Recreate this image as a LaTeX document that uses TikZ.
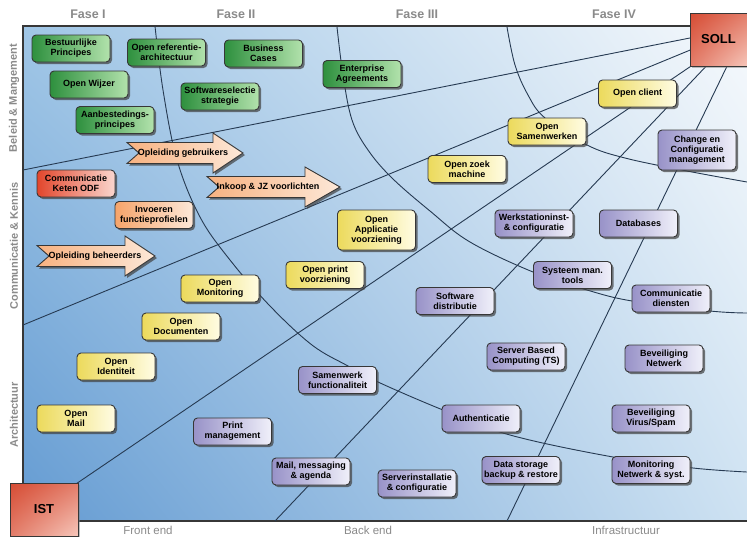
\documentclass[tikz,border=0pt]{standalone}
\usepackage{fontspec}
\setmainfont{Liberation Sans}
\usetikzlibrary{shadows,shadings}

\definecolor{bgUL}{RGB}{160,198,230}
\definecolor{bgUR}{RGB}{246,249,252}
\definecolor{bgLL}{RGB}{100,155,210}
\definecolor{bgLR}{RGB}{206,226,242}
\definecolor{gridcol}{RGB}{38,58,82}
\definecolor{boxline}{RGB}{55,55,55}
\definecolor{labelgray}{RGB}{138,138,138}
\definecolor{grnA}{RGB}{46,144,62}
\definecolor{grnB}{RGB}{178,226,172}
\definecolor{ylwA}{RGB}{236,218,92}
\definecolor{ylwB}{RGB}{255,252,226}
\definecolor{prpA}{RGB}{152,146,200}
\definecolor{prpB}{RGB}{240,240,250}
\definecolor{orgA}{RGB}{246,164,106}
\definecolor{orgB}{RGB}{253,232,216}
\definecolor{redA}{RGB}{226,70,44}
\definecolor{redB}{RGB}{251,214,206}
\definecolor{cornA}{RGB}{214,76,52}
\definecolor{cornB}{RGB}{246,198,186}

\tikzset{
  box/.style={draw=boxline, line width=0.9pt, rounded corners=4pt,
    minimum width=78pt, minimum height=27pt, inner sep=1pt, align=center,
    text=black, font=\bfseries\fontsize{9}{10}\selectfont,
    drop shadow={shadow xshift=2pt, shadow yshift=-2pt, opacity=0.7, fill=black!75}},
  greenbox/.style={box, left color=grnA, right color=grnB},
  yellowbox/.style={box, left color=ylwA, right color=ylwB},
  purplebox/.style={box, left color=prpA, right color=prpB},
  orangebox/.style={box, left color=orgA, right color=orgB},
  redbox/.style={box, left color=redA, right color=redB},
  tallbox/.style={minimum height=40pt},
  cornerbox/.style={draw=boxline, line width=0.9pt, upper left=cornA,
    lower right=cornB, upper right=cornA!60!cornB, lower left=cornA!60!cornB,
    font=\bfseries\fontsize{13}{15}\selectfont, text=black, inner sep=0pt,
    drop shadow={shadow xshift=1.6pt, shadow yshift=-1.6pt, opacity=0.5}},
  arrowshape/.style={draw=boxline, line width=0.9pt, left color=orgA!85!white,
    right color=orgB, drop shadow={shadow xshift=2pt, shadow yshift=-2pt, opacity=0.7, fill=black!75}},
  arrowtext/.style={font=\bfseries\fontsize{9}{10}\selectfont, text=black, inner sep=0pt},
  gridline/.style={draw=gridcol, line width=0.9pt},
  faselabel/.style={font=\bfseries\fontsize{12.5}{14}\selectfont, text=labelgray},
  zonelabel/.style={font=\fontsize{11.5}{13}\selectfont, text=labelgray},
  rowlabel/.style={font=\bfseries\fontsize{11}{13}\selectfont, text=labelgray, rotate=90},
}

% name, x tail, x head, x tip, y middle, text x, text
\newcommand{\notcharrow}[7]{%
  \path[arrowshape] (#2,{#5-10.5}) -- (#3,{#5-10.5}) -- (#3,{#5-20}) -- (#4,#5)
    -- (#3,{#5+20}) -- (#3,{#5+10.5}) -- (#2,{#5+10.5}) -- ({#2+12},#5) -- cycle;
  \node[arrowtext] (#1) at (#6,#5) {#7};
}

\begin{document}
\begin{tikzpicture}[x=1pt,y=-1pt]
\useasboundingbox (0,0) rectangle (747,536);

%% background and frame
\shade[upper left=bgUL, upper right=bgUR, lower left=bgLL, lower right=bgLR]
  (23,26) rectangle (747,521);
\draw[boxline, line width=1.1pt] (747,26) -- (23,26) -- (23,521) -- (747,521);

%% rays towards SOLL
\coordinate (wa) at (23,170);
\coordinate (wb) at (23,325);
\coordinate (bd) at (275,521);
\coordinate (be) at (507,521);
\coordinate (ra) at (700,36);
\coordinate (rb) at (700,46);
\coordinate (rc) at (700,60);
\coordinate (rd) at (712,60);
\coordinate (re) at (730,60);
\coordinate (ic) at (70,488);
\draw[gridline] (wa) -- (ra);
\draw[gridline] (wb) -- (rb);
\draw[gridline] (ic) -- (rc);
\draw[gridline] (bd) -- (rd);
\draw[gridline] (be) -- (re);

%% phase arcs
\draw[gridline] plot[smooth, tension=0.6] coordinates {(155,26) (163,90) (177,160)
  (200,217) (230,260) (270,306) (312,345) (348,366) (378,382) (443,410) (510,435)
  (613,457) (693,468) (747,472)};
\draw[gridline] plot[smooth, tension=0.6] coordinates {(337,27) (343,75) (352,120)
  (368,150) (392,178) (430,211) (470,242) (533,272) (587,290) (632,301) (710,311)
  (747,313)};
\draw[gridline] plot[smooth, tension=0.6] coordinates {(507,27) (515,65) (528,95)
  (545,118) (587,145) (625,158) (687,171) (747,182)};

%% corners
\node[cornerbox, minimum width=57pt, minimum height=53pt] (soll) at (718.5,39.5) {SOLL};
\node[cornerbox, minimum width=68pt, minimum height=53pt] (ist) at (44,509.5) {IST};

%% axis texts
\node[faselabel] (f1) at (88,14) {Fase I};
\node[faselabel] (f2) at (236,14) {Fase II};
\node[faselabel] (f3) at (417,14) {Fase III};
\node[faselabel] (f4) at (614,14) {Fase IV};
\node[zonelabel] (z1) at (148,530) {Front end};
\node[zonelabel] (z2) at (368,530) {Back end};
\node[zonelabel] (z3) at (626,530) {Infrastructuur};
\node[rowlabel] (r1) at (14,98) {Beleid \& Mangement};
\node[rowlabel] (r2) at (14,246) {Communicatie \& Kennis};
\node[rowlabel] (r3) at (14,415) {Architectuur};

%% beleid
\node[greenbox] (bestuur) at (71,48.5) {Bestuurlijke\\Principes};
\node[greenbox] (refarch) at (166.5,52.5) {Open referentie-\\architectuur};
\node[greenbox] (wijzer) at (89,84.5) {Open Wijzer};
\node[greenbox] (aanbest) at (115,120) {Aanbestedings-\\principes};
\node[greenbox] (business) at (263.5,53.5) {Business\\Cases};
\node[greenbox] (swselect) at (220,96.5) {Softwareselectie\\strategie};
\node[greenbox] (enterprise) at (362,74) {Enterprise\\Agreements};

%% communicatie
\node[redbox] (keten) at (76,183.5) {Communicatie\\Keten ODF};
\node[orangebox] (profiel) at (154,215) {Invoeren\\functieprofielen};
\notcharrow{gebruikers}{127}{213}{243}{153}{183}{Opleiding gebruikers}
\notcharrow{inkoop}{207}{305}{340}{187}{268}{Inkoop \& JZ voorlichten}
\notcharrow{beheer}{37}{125}{155}{256}{95}{Opleiding beheerders}

%% open standaarden
\node[yellowbox] (client) at (637.5,93.5) {Open client};
\node[yellowbox] (samenw) at (547,131.5) {Open\\Samenwerken};
\node[yellowbox] (zoek) at (467,169) {Open zoek\\machine};
\node[yellowbox, tallbox] (applic) at (376.5,230) {Open\\Applicatie\\voorziening};
\node[yellowbox] (print) at (325,275) {Open print\\voorziening};
\node[yellowbox] (monit) at (220,288.5) {Open\\Monitoring};
\node[yellowbox] (docum) at (181,326.5) {Open\\Documenten};
\node[yellowbox] (ident) at (116,366.5) {Open\\Identiteit};
\node[yellowbox] (mail) at (76,418.5) {Open\\Mail};

%% infrastructuur
\node[purplebox, tallbox] (change) at (697,150) {Change en\\Configuratie\\management};
\node[purplebox] (werkst) at (534,223.5) {Werkstationinst-\\\& configuratie};
\node[purplebox] (datab) at (638.5,223.5) {Databases};
\node[purplebox] (sysman) at (572.5,275) {Systeem man.\\tools};
\node[purplebox] (commd) at (671,298.5) {Communicatie\\diensten};
\node[purplebox] (swdist) at (455,301) {Software\\distributie};
\node[purplebox] (sbc) at (526,356.5) {Server Based\\Computing (TS)};
\node[purplebox] (bevnet) at (664,358.5) {Beveiliging\\Netwerk};
\node[purplebox] (samfunc) at (337.5,380) {Samenwerk\\functionaliteit};
\node[purplebox] (authent) at (481,418.5) {Authenticatie};
\node[purplebox] (bevvir) at (651,418.5) {Beveiliging\\Virus/Spam};
\node[purplebox] (printm) at (232.5,431.5) {Print\\management};
\node[purplebox] (mailmsg) at (311,471.5) {Mail, messaging\\\& agenda};
\node[purplebox] (srvinst) at (417,483.5) {Serverinstallatie\\\& configuratie};
\node[purplebox] (storage) at (521,470) {Data storage\\backup \& restore};
\node[purplebox] (monnet) at (651,470) {Monitoring\\Netwerk \& syst.};
\end{tikzpicture}
\end{document}
